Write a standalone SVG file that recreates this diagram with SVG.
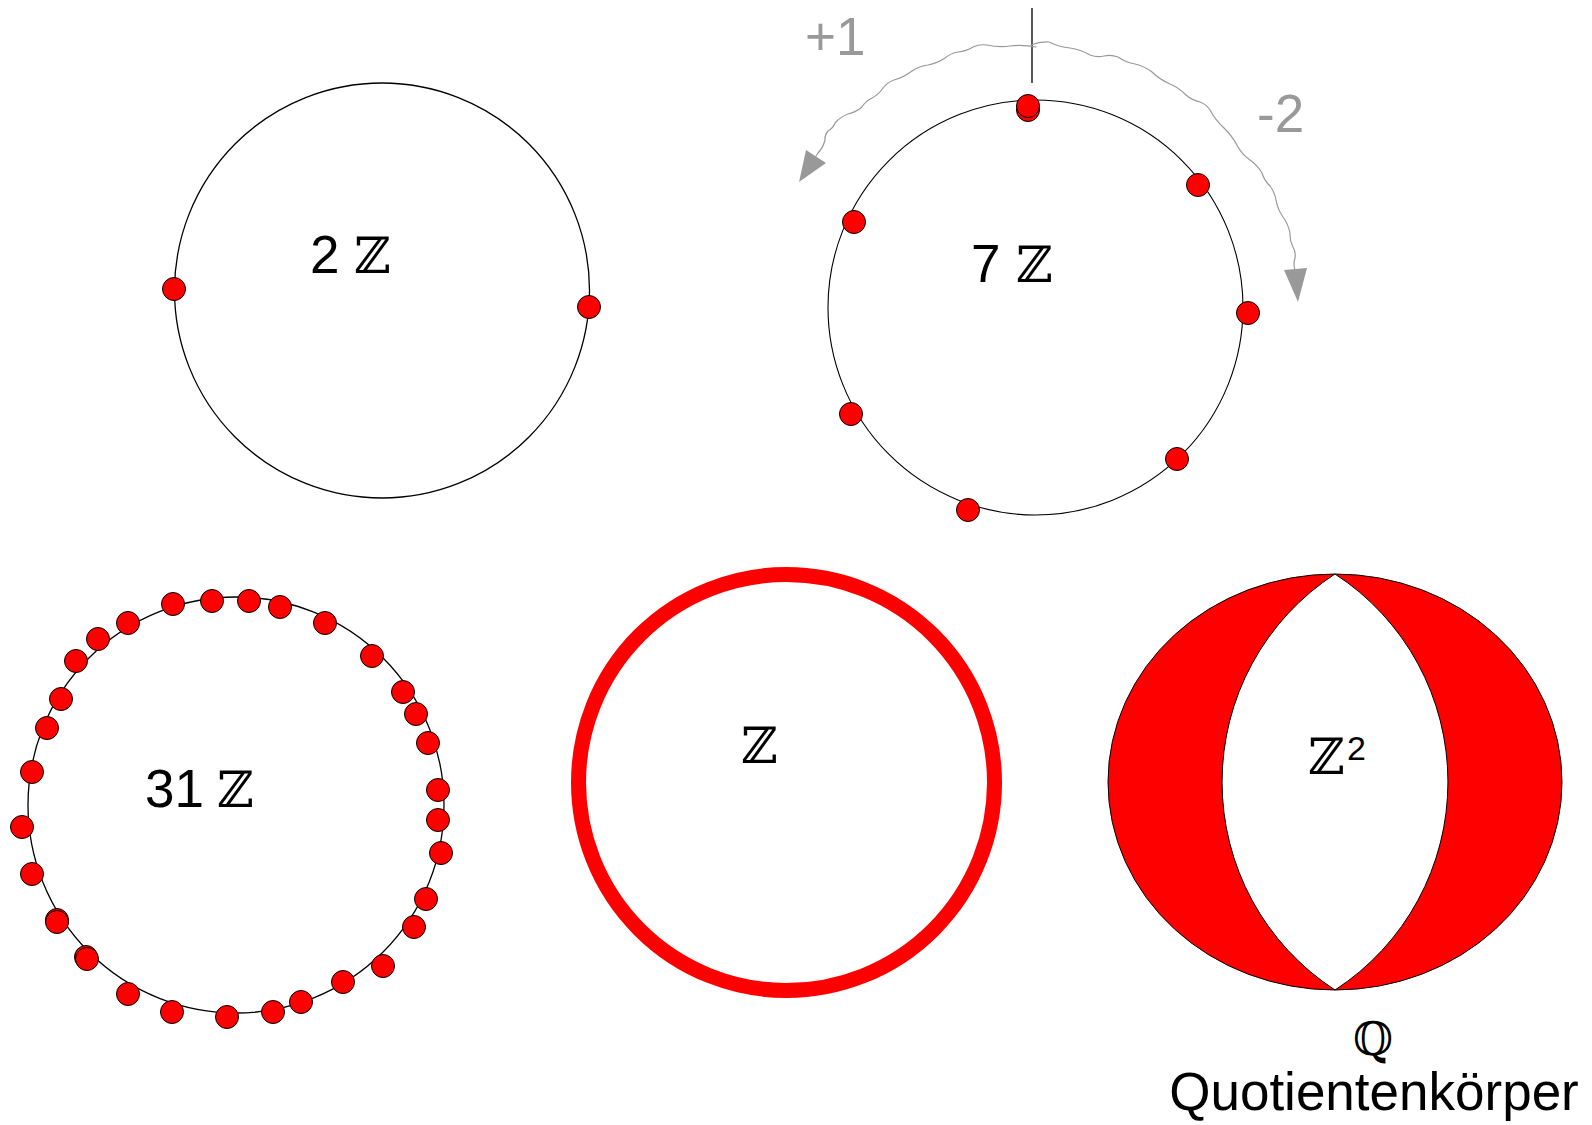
<svg xmlns="http://www.w3.org/2000/svg" width="1592" height="1125" viewBox="0 0 1592 1125">
<style>
.ring{fill:none;stroke:#000;stroke-width:1.3}
.dot{fill:#ff0000;stroke:#000;stroke-width:1}
.num{font-family:"Liberation Sans",Arial,sans-serif;font-size:53px;fill:#000}
.zz{font-family:"DejaVu Serif",serif;font-size:50px;fill:#000}
.gl{font-family:"Liberation Sans",Arial,sans-serif;font-size:53px;fill:#999}
.wave{fill:none;stroke:#999;stroke-width:1.2;stroke-linejoin:round;stroke-linecap:round}
.head{fill:#999;stroke:none}
</style>
<rect width="1592" height="1125" fill="#fff"/>

<g id="node-2Z">
<circle class="ring" cx="382" cy="290.5" r="207.5"/>
<circle class="dot" cx="174" cy="289" r="11.5"/>
<circle class="dot" cx="589" cy="307" r="11.5"/>
<text class="num" x="310" y="273">2</text>
<text class="zz" x="354" y="273">ℤ</text>
</g>

<g id="node-7Z">
<circle class="ring" cx="1035.5" cy="307.5" r="207.5" style="stroke-width:1.1"/>
<line x1="1032" y1="8" x2="1032" y2="83" stroke="#000" stroke-width="1.3"/>
<circle class="dot" cx="1028" cy="110" r="11.5"/>
<circle class="dot" cx="1028" cy="106" r="11.5"/>
<circle class="dot" cx="1198" cy="185" r="11.5"/>
<circle class="dot" cx="854" cy="222" r="11.5"/>
<circle class="dot" cx="1248" cy="313" r="11.5"/>
<circle class="dot" cx="851" cy="414" r="11.5"/>
<circle class="dot" cx="1177" cy="459" r="11.5"/>
<circle class="dot" cx="968" cy="510" r="11.5"/>
<text class="num" x="971" y="282">7</text>
<text class="zz" x="1016" y="282">ℤ</text>
</g>

<g id="connectors">
<path class="wave" d="M1036,47 Q1023,44.5 1010,46 Q998.5,47.5 987,45 Q979.8,44 973,47 Q966.2,51.3 958,52 Q950.6,53.2 945,58 Q937.2,63.3 928,65 Q919.3,66.1 912,71 Q903.8,77.3 894,80 Q887.3,82.4 883,88 Q878.8,94.5 872,98 Q865.6,101 862,107 Q855.8,112.3 848,114 Q840.4,116.8 835,123 Q833,128.3 828,131 Q824.6,134.8 825,140 Q823.2,147.4 818,153 L816,156"/>
<polygon class="head" points="799,182 806,150 826,163"/>
<path class="wave" d="M1031,45 Q1039.7,41.5 1049,42 Q1059,46.9 1070,48 Q1080.7,49.6 1090,55 Q1096.9,57.5 1104,56 Q1111.1,54.5 1118,57 Q1125.8,62.4 1135,64 Q1144.4,66.2 1152,72 Q1159.9,79.7 1170,84 Q1179.1,87.8 1186,95 Q1192.1,100.3 1200,102 Q1206.2,104.4 1210,110 Q1215.4,120.2 1224,128 Q1232.6,136.3 1238,147 Q1242.5,154.8 1250,160 Q1257.5,165.2 1262,173 Q1264.3,180.6 1270,186 Q1274.8,192.2 1276,200 Q1277.6,209.2 1283,217 Q1288.3,224.2 1290,233 Q1289.5,240.4 1293,247 Q1296,252.2 1295,258 Q1293,264 1295,270"/>
<polygon class="head" points="1298,302 1284,270 1307,268"/>
<text class="gl" x="805" y="55">+1</text>
<text class="gl" x="1257" y="132">-2</text>
</g>

<g id="node-31Z">
<circle class="ring" cx="236" cy="805" r="208"/>
<circle class="dot" cx="173" cy="604" r="11.5"/>
<circle class="dot" cx="212" cy="601" r="11.5"/>
<circle class="dot" cx="249" cy="601" r="11.5"/>
<circle class="dot" cx="280" cy="607" r="11.5"/>
<circle class="dot" cx="325" cy="623" r="11.5"/>
<circle class="dot" cx="372" cy="656" r="11.5"/>
<circle class="dot" cx="403" cy="692" r="11.5"/>
<circle class="dot" cx="416" cy="714" r="11.5"/>
<circle class="dot" cx="428" cy="743" r="11.5"/>
<circle class="dot" cx="438" cy="790" r="11.5"/>
<circle class="dot" cx="438" cy="820" r="11.5"/>
<circle class="dot" cx="441" cy="853" r="11.5"/>
<circle class="dot" cx="426" cy="899" r="11.5"/>
<circle class="dot" cx="414" cy="927" r="11.5"/>
<circle class="dot" cx="383" cy="966" r="11.5"/>
<circle class="dot" cx="343" cy="982" r="11.5"/>
<circle class="dot" cx="301" cy="1002" r="11.5"/>
<circle class="dot" cx="273" cy="1012" r="11.5"/>
<circle class="dot" cx="227" cy="1017" r="11.5"/>
<circle class="dot" cx="172" cy="1012" r="11.5"/>
<circle class="dot" cx="128" cy="994" r="11.5"/>
<circle class="dot" cx="86" cy="957" r="11.5"/>
<circle class="dot" cx="87" cy="959" r="11.5"/>
<circle class="dot" cx="57" cy="920" r="11.5"/>
<circle class="dot" cx="57" cy="922" r="11.5"/>
<circle class="dot" cx="32" cy="874" r="11.5"/>
<circle class="dot" cx="22" cy="827" r="11.5"/>
<circle class="dot" cx="32" cy="772" r="11.5"/>
<circle class="dot" cx="47" cy="728" r="11.5"/>
<circle class="dot" cx="61" cy="699" r="11.5"/>
<circle class="dot" cx="76" cy="661" r="11.5"/>
<circle class="dot" cx="98" cy="639" r="11.5"/>
<circle class="dot" cx="128" cy="623" r="11.5"/>
<text class="num" x="145" y="807">31</text>
<text class="zz" x="217" y="807">ℤ</text>
</g>

<g id="node-Z">
<circle cx="786.5" cy="782.5" r="208" fill="none" stroke="#ff0000" stroke-width="15"/>
<text class="zz" x="741" y="763">ℤ</text>
</g>

<g id="node-Z2">
<ellipse cx="1335" cy="782" rx="227" ry="208" fill="#ff0000" stroke="#000" stroke-width="1"/>
<path d="M1335,574 A248,248 0 0,0 1335,990 A248,248 0 0,0 1335,574 Z" fill="#fff" stroke="#000" stroke-width="1"/>
<text class="zz" x="1308" y="774">ℤ</text>
<text class="num" x="1347" y="760" style="font-size:34px">2</text>
<text x="1373" y="1055" text-anchor="middle" style="font-family:'DejaVu Serif',serif;font-size:46px">ℚ</text>
<text class="num" x="1374" y="1110" text-anchor="middle">Quotientenkörper</text>
</g>
</svg>
